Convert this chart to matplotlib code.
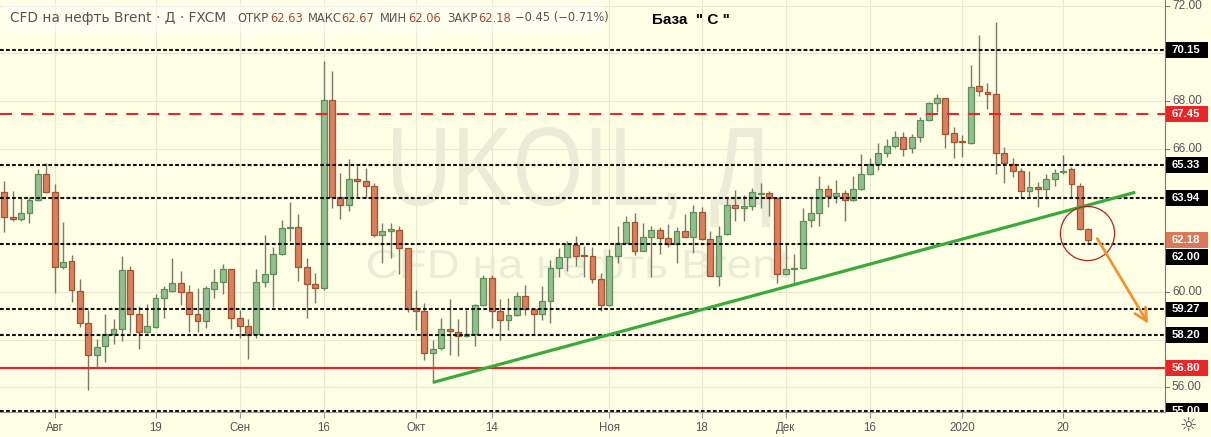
import numpy as np
import pandas as pd
import matplotlib
matplotlib.use('Agg')
import matplotlib.pyplot as plt
from matplotlib.patches import Rectangle, PathPatch
from matplotlib.textpath import TextPath
from matplotlib.font_manager import FontProperties
from matplotlib.transforms import Affine2D

plt.rcParams['font.family'] = ['Liberation Sans', 'DejaVu Sans']

# UKOIL (CFD Brent, FXCM) daily candles 24.07.2019 - 23.01.2020
opens = [64.18, 63.13, 63.07, 63.30, 63.84, 64.93, 64.20, 61.06, 61.28, 60.03,
         58.68, 57.34, 57.72, 58.24, 58.43, 60.91, 59.06, 58.33, 58.52, 59.76,
         60.05, 60.36, 59.99, 59.06, 58.79, 60.11, 60.43, 60.95, 58.89, 58.58,
         58.22, 60.43, 60.74, 61.58, 62.67, 62.74, 61.03, 60.34, 60.15, 68.03,
         63.99, 63.63, 64.75, 64.64, 64.45, 62.37, 62.54, 62.58, 61.83, 59.31,
         59.20, 57.43, 57.64, 58.43, 58.33, 58.15, 58.22, 59.44, 60.57, 59.20,
         58.81, 59.02, 59.84, 59.27, 59.06, 59.61, 61.02, 61.45, 61.97, 61.53,
         61.52, 60.53, 59.45, 61.52, 62.07, 62.92, 61.73, 62.29, 62.60, 62.25,
         62.01, 62.56, 62.32, 63.34, 62.21, 60.67, 62.43, 63.63, 63.51, 63.60,
         64.11, 64.13, 63.95, 60.74, 60.95, 60.99, 63.02, 63.30, 64.30, 64.03,
         64.16, 63.85, 64.30, 64.93, 65.35, 65.81, 66.12, 66.51, 66.02, 66.51,
         67.21, 67.91, 68.12, 66.65, 66.31, 66.23, 68.65, 68.40, 68.29, 65.81,
         65.36, 65.08, 64.23, 64.41, 64.30, 64.73, 65.04, 65.14, 64.45, 62.63]
highs = [64.65, 64.23, 63.95, 63.99, 65.15, 65.39, 64.51, 62.94, 61.54, 60.54,
         59.24, 58.03, 59.07, 58.86, 61.51, 61.09, 59.41, 59.48, 59.90, 60.26,
         61.41, 60.88, 60.29, 60.15, 60.25, 60.95, 61.17, 60.97, 59.24, 58.85,
         60.95, 62.39, 61.87, 63.02, 63.77, 63.25, 61.43, 60.78, 69.69, 69.28,
         65.00, 65.57, 65.28, 65.18, 64.58, 62.88, 62.88, 62.76, 61.85, 60.08,
         59.52, 57.98, 58.93, 59.69, 58.88, 59.24, 59.50, 60.70, 60.70, 59.70,
         59.76, 60.01, 60.28, 59.30, 60.25, 61.34, 61.86, 62.13, 62.34, 61.94,
         61.87, 60.81, 61.79, 62.76, 63.18, 63.32, 62.88, 62.76, 62.74, 62.85,
         62.74, 63.25, 63.64, 63.55, 62.56, 62.78, 63.97, 64.27, 64.06, 64.34,
         64.58, 64.23, 63.97, 62.07, 61.59, 63.51, 63.93, 64.86, 64.48, 64.69,
         64.27, 64.86, 65.77, 65.63, 66.23, 66.41, 66.76, 66.72, 66.62, 67.32,
         67.98, 68.30, 68.14, 66.90, 66.58, 69.51, 70.77, 68.77, 71.33, 66.09,
         65.63, 65.18, 65.08, 64.62, 64.94, 65.15, 65.74, 65.25, 64.55, 62.67]
lows = [62.53, 62.99, 62.99, 62.90, 63.80, 64.15, 59.97, 60.95, 59.59, 58.54,
        55.89, 56.80, 57.07, 57.82, 57.96, 58.29, 57.61, 58.30, 58.50, 58.89,
        60.00, 59.44, 58.33, 58.33, 58.50, 59.76, 59.91, 58.43, 58.06, 57.20,
        58.08, 60.22, 59.38, 61.55, 62.15, 60.47, 58.89, 59.55, 60.10, 63.53,
        63.05, 63.41, 63.99, 63.93, 62.30, 61.20, 61.41, 60.75, 59.15, 58.40,
        57.17, 56.19, 57.56, 57.34, 57.33, 58.10, 57.73, 59.40, 58.50, 57.98,
        58.40, 58.98, 59.03, 58.24, 58.82, 58.71, 60.61, 60.89, 61.10, 60.61,
        60.39, 59.21, 59.40, 61.23, 62.05, 61.55, 61.70, 60.61, 61.58, 61.87,
        61.20, 62.30, 61.65, 62.18, 60.65, 60.25, 62.40, 62.97, 62.97, 63.43,
        63.51, 63.18, 60.36, 60.70, 60.39, 60.95, 62.71, 62.78, 63.57, 63.74,
        62.97, 63.80, 64.28, 64.90, 65.11, 65.67, 66.02, 65.71, 65.81, 66.30,
        67.15, 67.56, 66.05, 65.60, 65.67, 66.20, 68.23, 67.66, 64.94, 64.55,
        64.83, 63.99, 63.99, 63.55, 63.90, 64.45, 64.95, 63.99, 62.60, 62.06]
closes = [63.13, 63.08, 63.30, 63.84, 64.93, 64.20, 61.03, 61.27, 60.07, 58.68,
          57.34, 57.70, 58.24, 58.43, 60.91, 59.06, 58.33, 58.56, 59.73, 60.11,
          60.36, 60.01, 59.06, 58.79, 60.15, 60.40, 60.95, 58.89, 58.58, 58.20,
          60.43, 60.74, 61.58, 62.67, 62.74, 61.05, 60.34, 60.15, 68.03, 63.99,
          63.63, 64.75, 64.66, 64.43, 62.37, 62.54, 62.63, 61.83, 59.28, 59.20,
          57.43, 57.60, 58.47, 58.35, 58.15, 58.24, 59.44, 60.57, 59.20, 58.81,
          59.02, 59.84, 59.27, 59.06, 59.61, 60.99, 61.48, 62.00, 61.52, 61.51,
          60.53, 59.45, 61.52, 62.07, 62.92, 61.73, 62.29, 62.60, 62.25, 62.01,
          62.56, 62.32, 63.34, 62.21, 60.67, 62.36, 63.64, 63.51, 63.60, 64.18,
          64.13, 63.95, 60.74, 60.95, 60.99, 62.99, 63.30, 64.30, 64.03, 64.16,
          63.85, 64.30, 64.93, 65.35, 65.84, 66.12, 66.51, 65.98, 66.51, 67.21,
          67.91, 68.14, 66.62, 66.30, 66.29, 68.58, 68.43, 68.29, 65.81, 65.39,
          65.07, 64.23, 64.41, 64.30, 64.73, 64.97, 65.08, 64.51, 62.64, 62.18]

# trading days (no bars on 25 Dec and 1 Jan)
dates = pd.bdate_range('2019-07-24', '2020-01-23')
dates = dates.drop(pd.to_datetime(['2019-12-25', '2020-01-01']))

tick_dates = ['2019-08-01', '2019-08-19', '2019-09-02', '2019-09-16', '2019-10-01', '2019-10-14',
              '2019-11-01', '2019-11-18', '2019-12-02', '2019-12-16', '2020-01-02', '2020-01-20']
tick_labels = ['Авг', '19', 'Сен', '16', 'Окт', '14', 'Ноя', '18', 'Дек', '16', '2020', '20']
price_ticks = [56, 58, 60, 62, 64, 66, 68, 70, 72]
# the ones not hidden under level boxes
price_labels = [56, 60, 66, 68, 72]

levels_black = [70.15, 65.33, 63.94, 62.00, 59.27, 58.20, 55.00]
level_red_dash = 67.45
level_red_solid = 56.80
last_price = 62.18

# hand drawn stuff (bar index, price)
trend_idx = [51.0, 134.6]
trend_price = [56.21, 64.18]
circle_idx, circle_price = 128.8, 62.47
arrow_idx = [129.9, 136.3]
arrow_price = [62.34, 58.57]

W, H = 1211, 437
BG = '#ffffe6'
GREEN, GREEN_E = '#93bf8e', '#5e8f5a'
RED, RED_E = '#db7f5e', '#a4522f'

fig = plt.figure(figsize=(W / 100, H / 100), dpi=100, facecolor=BG)
ax_bottom = (H - 412) / H
ax = fig.add_axes([0, ax_bottom, 1165 / W, 412 / H], facecolor=BG)
ylim = (54.97, 72.24)
ax.set_ylim(*ylim)
ax.set_xlim(-0.51, 138.13)

x = np.arange(len(opens))
o, h, l, c = map(np.array, (opens, highs, lows, closes))
up = c >= o
body_lo = np.minimum(o, c)
body_h = np.maximum(np.abs(c - o), 0.03)

# grid
tick_pos = [dates.get_loc(pd.Timestamp(d)) for d in tick_dates]
for p in tick_pos:
    ax.axvline(p, color='#e9e9d2', lw=0.8, zorder=0.5)
for p in price_ticks:
    ax.axhline(p, color='#e9e9d2', lw=0.8, zorder=0.5)


# watermark, squeezed to the box it takes in the picture
def watermark(s, x0, x1, baseline, cap):
    fp = FontProperties(family='Liberation Sans')
    tp = TextPath((0, 0), s, size=100, prop=fp)
    bb = tp.get_extents()
    sx = (x1 - x0) / bb.width
    sy = cap / 71.6
    tr = Affine2D().scale(sx, sy).translate(x0 - bb.x0 * sx, H - baseline)
    ax.add_patch(PathPatch(tp, transform=tr, fc='#ececd6', ec='none', zorder=1))


watermark('UKOIL, Д', 393, 770, 205, 80)
watermark('CFD на нефть Brent', 368, 790, 278, 29)

# candles
ax.vlines(x, l, h, color='#7a7a68', lw=1, zorder=3)
ax.bar(x[up], body_h[up], bottom=body_lo[up], width=0.7, color=GREEN,
       edgecolor=GREEN_E, lw=0.9, zorder=4)
ax.bar(x[~up], body_h[~up], bottom=body_lo[~up], width=0.7, color=RED,
       edgecolor=RED_E, lw=0.9, zorder=4)

# levels
for lv in levels_black:
    ax.axhline(lv, color='#111111', lw=1.5, ls=(0, (1.8, 1.1)), zorder=5)
ax.axhline(level_red_dash, color='#e8262a', lw=1.5, ls=(0, (5.8, 4.3)), zorder=5)
ax.axhline(level_red_solid, color='#e8262a', lw=1.6, zorder=5)

ax.plot(trend_idx, trend_price, color='#3aaa3a', lw=2.3, zorder=6, solid_capstyle='butt')
ax.plot(circle_idx, circle_price, 'o', ms=39, mfc='none', mec='#b22222', mew=0.9, zorder=6)
ax.annotate('', xy=(arrow_idx[1], arrow_price[1]), xytext=(arrow_idx[0], arrow_price[0]),
            arrowprops=dict(arrowstyle='->, head_length=0.9, head_width=0.45',
                            color='#f5922f', lw=2), zorder=7)

ax.set_xticks(tick_pos)
ax.set_xticklabels(tick_labels, color='#555555', fontsize=8.3)
ax.tick_params(axis='x', length=4, color='#999999', pad=3)
ax.set_yticks([])
for s in ['left', 'top', 'right']:
    ax.spines[s].set_visible(False)
ax.spines['bottom'].set_color('#9a9a9a')

# price scale
ax2 = fig.add_axes([1165 / W, ax_bottom, 46 / W, 412 / H], facecolor=BG)
ax2.set_ylim(*ylim)
ax2.set_xlim(0, 46)
ax2.set_xticks([])
ax2.set_yticks([])
for s in ['right', 'top', 'bottom']:
    ax2.spines[s].set_visible(False)
ax2.spines['left'].set_color('#777777')
for p in price_ticks:
    ax2.plot([0, 4], [p, p], color='#777777', lw=0.8)
for p in price_labels:
    ax2.text(7, p, f'{p:.2f}', color='#555555', fontsize=8.6, va='center', ha='left', clip_on=True)

box_h = 0.66
boxes = [(lv, lv, '#000000') for lv in levels_black]
boxes = [b if b[0] != 62.00 else (62.00, 61.46, '#000000') for b in boxes]
boxes += [(level_red_dash, level_red_dash, '#e8262a'), (level_red_solid, level_red_solid, '#e8262a'),
          (last_price, last_price, '#d9785a')]
for val, ypos, col in boxes:
    ax2.add_patch(Rectangle((1, ypos - box_h / 2), 42, box_h, fc=col, ec='none', zorder=3))
    ax2.text(7, ypos, f'{val:.2f}', color='white', fontsize=8.2, fontweight='bold',
             va='center', ha='left', zorder=4, clip_on=True)


# header
def fx(px):
    return px / W


def fy(py):
    return 1 - py / H


fig.patches.append(Rectangle((fx(2), fy(33)), fx(602), 30 / H, transform=fig.transFigure,
                             fc='white', alpha=0.45, ec='none', zorder=2))
fig.text(fx(10), fy(18), 'CFD на нефть Brent · Д · FXCM', family=['DejaVu Sans'],
         fontsize=9.9, color='#555555', va='center')
header = [(237, 'ОТКР', '#555555'), (270, '62.63', '#a9472c'),
          (308, 'МАКС', '#555555'), (341, '62.67', '#a9472c'),
          (380, 'МИН', '#555555'), (408, '62.06', '#a9472c'),
          (447, 'ЗАКР', '#555555'), (478, '62.18', '#a9472c'),
          (515, '−0.45 (−0.71%)', '#555555')]
for px, s, col in header:
    fig.text(fx(px), fy(18), s, family=['DejaVu Sans'], fontsize=8.3, color=col, va='center')

fig.text(fx(691), fy(20), 'База  " С "', fontsize=11, fontweight='bold', color='black',
         ha='center', va='center')
fig.text(fx(1188), fy(425), '☼', family=['DejaVu Sans'], fontsize=14, color='#444444',
         ha='center', va='center')

fig.savefig('out.png', dpi=100, facecolor=BG)
